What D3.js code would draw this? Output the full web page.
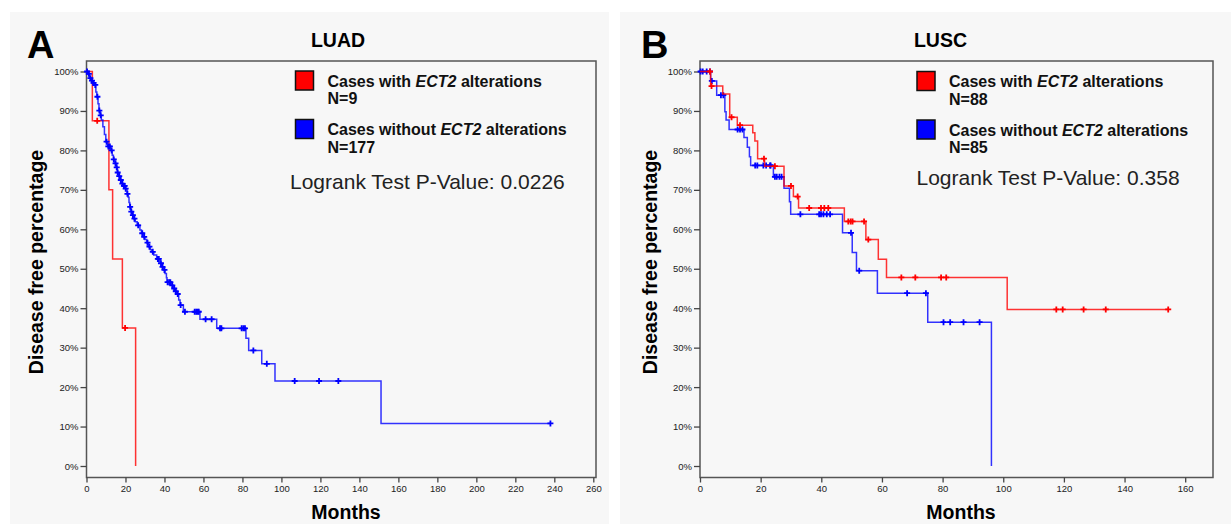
<!DOCTYPE html>
<html>
<head>
<meta charset="utf-8">
<script src="https://cdn.jsdelivr.net/npm/d3@7"></script>
<style>
  body { margin: 0; background: #fff; }
  svg { display: block; }
</style>
</head>
<body>
<div id="viz"></div>
<script>
// tick labels
const yTicks = [0, 10, 20, 30, 40, 50, 60, 70, 80, 90, 100];
const xTicksA = [0, 20, 40, 60, 80, 100, 120, 140, 160, 180, 200, 220, 240, 260];
const xTicksB = [0, 20, 40, 60, 80, 100, 120, 140, 160];

// LUAD, cases with ECT2 alterations: [month of event, survival after]
const luadAltSteps = [[3.0, 0.875], [11.5, 0.70], [13.4, 0.525], [18.4, 0.35], [25.2, 0]];
const luadAltCensor = [5.5, 19.8];
const luadAltEnd = 25.2;

// LUAD, cases without ECT2 alterations
const luadNoSteps = [
  [0.8, 0.994], [1.5, 0.983], [2.3, 0.977], [3.2, 0.971], [4.2, 0.966], [4.8, 0.948],
  [5.3, 0.936], [5.9, 0.918], [6.4, 0.901], [7.0, 0.889], [7.6, 0.877], [8.4, 0.860],
  [9.2, 0.840], [9.9, 0.822], [10.8, 0.810], [12.5, 0.800], [13.2, 0.788], [13.8, 0.777],
  [14.6, 0.767], [15.2, 0.757], [15.8, 0.744], [16.4, 0.735], [17.2, 0.725], [18.0, 0.716],
  [18.8, 0.710], [20.0, 0.703], [20.8, 0.690], [21.4, 0.681], [21.8, 0.668], [22.2, 0.657],
  [22.8, 0.645], [23.4, 0.636], [24.2, 0.627], [25.0, 0.619], [26.0, 0.610], [27.4, 0.598],
  [28.2, 0.590], [29.1, 0.581], [30.0, 0.574], [30.9, 0.566], [31.8, 0.556], [32.8, 0.548],
  [33.5, 0.543], [34.5, 0.535], [36.0, 0.525], [37.8, 0.514], [38.6, 0.505], [39.5, 0.497],
  [40.3, 0.488], [41.0, 0.477], [41.3, 0.466], [43.6, 0.458], [44.5, 0.450], [45.5, 0.443],
  [46.3, 0.436], [47.3, 0.421], [48.0, 0.408], [49.7, 0.391], [58.2, 0.372], [66.8, 0.349],
  [81.8, 0.324], [83.2, 0.293], [89.9, 0.259], [96.7, 0.2155], [151.1, 0.108]
];
const luadNoCensor = [
  0.3, 1.2, 2.0, 2.8, 3.6, 4.5, 5.6, 6.6, 7.3, 10.3, 11.2, 12.0, 12.9, 14.0, 14.9, 15.5,
  16.0, 16.8, 17.6, 18.4, 19.2, 19.6, 20.1, 21.0, 22.4, 23.0, 23.8, 24.6, 26.5, 28.6, 29.6,
  31.3, 32.3, 34.0, 36.6, 37.1, 38.2, 39.0, 40.0, 41.6, 42.4, 43.0, 44.0, 45.0, 45.8, 46.8,
  48.3, 50.5, 55.5, 56.3, 57.0, 57.6, 61.1, 64.2, 68.5, 69.2, 79.6, 80.5, 81.3, 85.6, 92.5,
  106.8, 119.3, 129.2, 238.0
];
const luadNoEnd = 238.0;

// LUSC, cases with ECT2 alterations
const luscAltSteps = [
  [3.5, 0.963], [7.5, 0.943], [9.8, 0.884], [12.3, 0.864], [17.4, 0.845], [18.1, 0.824],
  [19.0, 0.779], [21.3, 0.760], [27.7, 0.710], [30.8, 0.683], [32.5, 0.654], [47.6, 0.620],
  [54.7, 0.574], [58.8, 0.524], [61.5, 0.478], [101.3, 0.397]
];
const luscAltCensor = [
  3.3, 3.8, 10.4, 13.2, 21.1, 24.7, 30.0, 32.2, 36.0, 39.9, 41.0, 42.3, 48.9, 49.7, 50.3,
  54.1, 55.5, 66.4, 71.0, 79.5, 81.2, 117.5, 119.6, 126.5, 133.8, 154.4
];
const luscAltEnd = 154.4;

// LUSC, cases without ECT2 alterations
const luscNoSteps = [
  [3.5, 0.976], [5.5, 0.940], [8.2, 0.898], [8.6, 0.877], [9.6, 0.853], [14.5, 0.833],
  [15.6, 0.808], [16.3, 0.784], [16.7, 0.762], [24.2, 0.733], [27.7, 0.704], [29.5, 0.670],
  [29.9, 0.638], [47.0, 0.591], [50.2, 0.541], [51.6, 0.495], [58.5, 0.438], [75.1, 0.3645],
  [96.1, 0]
];
const luscNoCensor = [
  0.2, 0.9, 2.2, 3.3, 3.9, 6.9, 7.7, 12.4, 13.2, 14.0, 18.2, 18.9, 20.9, 21.8, 23.1, 23.3,
  24.7, 25.3, 26.2, 26.9, 33.1, 39.3, 39.9, 40.7, 41.8, 42.9, 49.8, 52.5, 68.3, 74.5, 80.3,
  82.5, 86.9, 92.2
];
const luscNoEnd = 96.1;

const config = {
  width: 1231,
  height: 524,
  font: "'Liberation Sans', Arial, Helvetica, sans-serif",
  bg: "#f7f7f7",
  red: "#ff0000",
  blue: "#0000ff",
  frameTop: 61,
  axisY: 477.5,
  yTop: 71.5,
  yBottom: 466,
};

const svg = d3
  .select("#viz")
  .append("svg")
  .attr("width", config.width)
  .attr("height", config.height)
  .style("background", "#fff");

const survivalAt = (steps, t) => {
  let s = 1;
  steps.forEach(([st, v]) => {
    if (st <= t) s = v;
  });
  return s;
};

const drawCurve = (g, x, y, steps, censor, end, color) => {
  const pts = [[0, 1], ...steps];
  if (end > steps[steps.length - 1][0]) pts.push([end, steps[steps.length - 1][1]]);

  const line = d3
    .line()
    .x((d) => x(d[0]))
    .y((d) => y(d[1]))
    .curve(d3.curveStepAfter);

  g.append("path")
    .attr("d", line(pts))
    .attr("fill", "none")
    .attr("stroke", color)
    .attr("stroke-opacity", 0.8)
    .attr("stroke-width", 1.5);

  g.selectAll(null)
    .data(censor)
    .enter()
    .append("path")
    .attr("transform", (t) => `translate(${x(t)},${y(survivalAt(steps, t))})`)
    .attr("d", "M-3,0H3M0,-3V3")
    .attr("stroke", color)
    .attr("stroke-width", 1.8);
};

const drawPanel = (p) => {
  const g = svg.append("g");

  g.append("rect")
    .attr("x", p.bgX)
    .attr("y", 12)
    .attr("width", p.bgW)
    .attr("height", config.height - 12)
    .attr("fill", config.bg);

  const x = d3.scaleLinear().domain([0, p.xMax]).range([p.x0, p.x1]);
  const y = d3.scaleLinear().domain([0, 1]).range([config.yBottom, config.yTop]);

  // frame
  g.append("path")
    .attr(
      "d",
      `M${p.x0},${config.axisY}V${config.frameTop}H${p.frameRight}V${config.axisY}Z`
    )
    .attr("fill", "none")
    .attr("stroke", "#555")
    .attr("stroke-width", 1.5);

  const yAxis = g
    .append("g")
    .attr("transform", `translate(${p.x0},0)`)
    .call(
      d3
        .axisLeft(y)
        .tickValues(yTicks.map((d) => d / 100))
        .tickFormat((d) => `${Math.round(d * 100)}%`)
        .tickSize(6)
        .tickPadding(2)
    );

  const xAxis = g
    .append("g")
    .attr("transform", `translate(0,${config.axisY})`)
    .call(d3.axisBottom(x).tickValues(p.xTicks).tickSize(5).tickPadding(3));

  [yAxis, xAxis].forEach((a) => {
    a.select(".domain").remove();
    a.selectAll("line").attr("stroke", "#444").attr("stroke-width", 1.3);
    a.selectAll("text")
      .attr("fill", "#222")
      .style("font-family", config.font)
      .style("font-size", "9.5px");
  });

  p.curves.forEach((c) => drawCurve(g, x, y, c.steps, c.censor, c.end, c.color));

  // panel letter and title
  g.append("text")
    .attr("x", p.letterX)
    .attr("y", 58)
    .attr("font-family", config.font)
    .attr("font-weight", "bold")
    .attr("font-size", 38)
    .text(p.letter);

  g.append("text")
    .attr("x", p.titleX)
    .attr("y", 47)
    .attr("text-anchor", "middle")
    .attr("font-family", config.font)
    .attr("font-weight", "bold")
    .attr("font-size", 19.5)
    .text(p.title);

  // axis titles
  g.append("text")
    .attr("transform", `translate(${p.yLabelX},262) rotate(-90)`)
    .attr("text-anchor", "middle")
    .attr("font-family", config.font)
    .attr("font-weight", "bold")
    .attr("font-size", 19.5)
    .text("Disease free percentage");

  g.append("text")
    .attr("x", p.monthsX)
    .attr("y", 519)
    .attr("text-anchor", "middle")
    .attr("font-family", config.font)
    .attr("font-weight", "bold")
    .attr("font-size", 19.5)
    .text("Months");

  // legend
  p.legend.forEach((l, i) => {
    const top = p.legendY + i * 48.5;
    g.append("rect")
      .attr("x", p.legendX)
      .attr("y", top)
      .attr("width", 18)
      .attr("height", 19)
      .attr("fill", l.color)
      .attr("stroke", "#111")
      .attr("stroke-width", 1.5);

    const t = g
      .append("text")
      .attr("x", p.legendX + 32)
      .attr("y", top + 15.5)
      .attr("font-family", config.font)
      .attr("font-weight", "bold")
      .attr("font-size", 16)
      .attr("fill", "#111");
    t.append("tspan").text(l.pre);
    t.append("tspan").attr("font-style", "italic").text("ECT2");
    t.append("tspan").text(" alterations");

    g.append("text")
      .attr("x", p.legendX + 32)
      .attr("y", top + 33)
      .attr("font-family", config.font)
      .attr("font-weight", "bold")
      .attr("font-size", 16)
      .attr("fill", "#111")
      .text(l.n);
  });

  g.append("text")
    .attr("x", p.pX)
    .attr("y", p.pY)
    .attr("font-family", config.font)
    .attr("font-size", 21)
    .attr("fill", "#222")
    .text(p.pText);
};

drawPanel({
  letter: "A",
  letterX: 27,
  title: "LUAD",
  titleX: 338,
  bgX: 10,
  bgW: 599,
  x0: 86.5,
  x1: 593.3,
  xMax: 260,
  frameRight: 596,
  xTicks: xTicksA,
  yLabelX: 43,
  monthsX: 346,
  legendX: 295.5,
  legendY: 71,
  pX: 290,
  pY: 189,
  pText: "Logrank Test P-Value: 0.0226",
  legend: [
    { color: config.red, pre: "Cases with ", n: "N=9" },
    { color: config.blue, pre: "Cases without ", n: "N=177" },
  ],
  curves: [
    { steps: luadAltSteps, censor: luadAltCensor, end: luadAltEnd, color: config.red },
    { steps: luadNoSteps, censor: luadNoCensor, end: luadNoEnd, color: config.blue },
  ],
});

drawPanel({
  letter: "B",
  letterX: 641,
  title: "LUSC",
  titleX: 940.5,
  bgX: 620,
  bgW: 611,
  x0: 700,
  x1: 1185.2,
  xMax: 160,
  frameRight: 1213,
  xTicks: xTicksB,
  yLabelX: 657,
  monthsX: 961,
  legendX: 917,
  legendY: 71.5,
  pX: 916.5,
  pY: 184.5,
  pText: "Logrank Test P-Value: 0.358",
  legend: [
    { color: config.red, pre: "Cases with ", n: "N=88" },
    { color: config.blue, pre: "Cases without ", n: "N=85" },
  ],
  curves: [
    { steps: luscNoSteps, censor: luscNoCensor, end: luscNoEnd, color: config.blue },
    { steps: luscAltSteps, censor: luscAltCensor, end: luscAltEnd, color: config.red },
  ],
});
</script>
</body>
</html>
